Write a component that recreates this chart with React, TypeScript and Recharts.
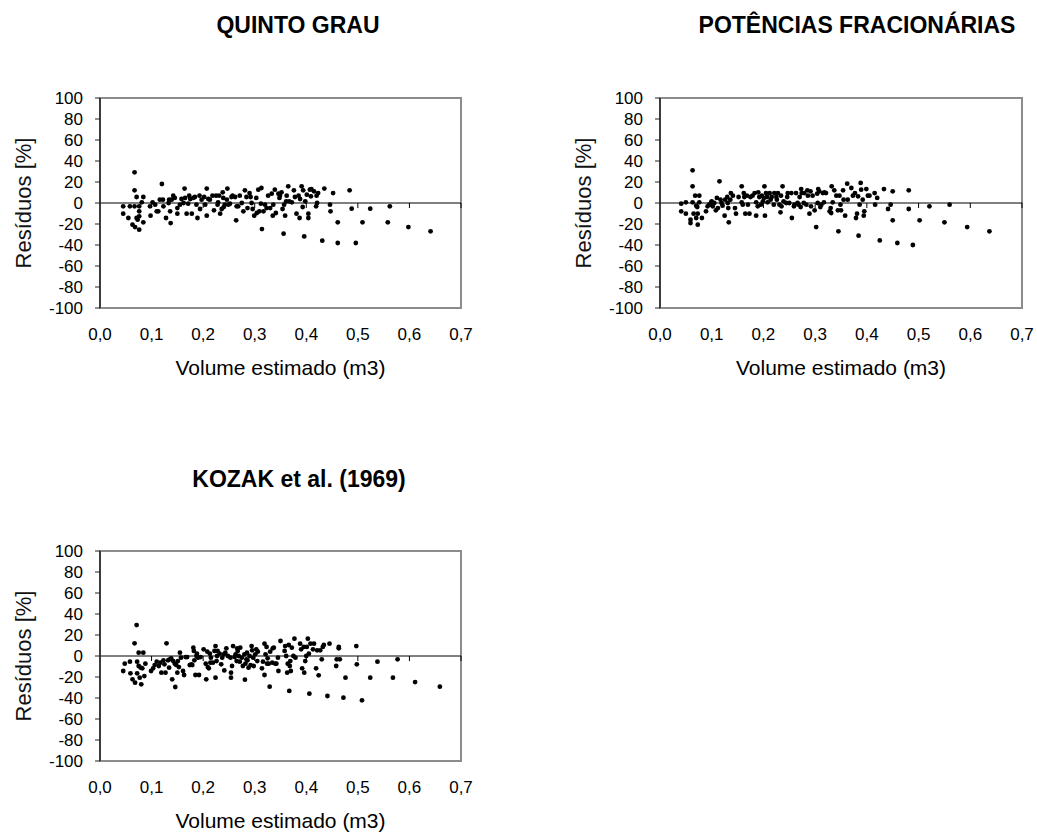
import React from 'react';
import { ScatterChart, Scatter, XAxis, YAxis, ReferenceLine, ReferenceArea } from 'recharts';

const xTicks = [0, 0.1, 0.2, 0.3, 0.4, 0.5, 0.6, 0.7];
const yTicks = [-100, -80, -60, -40, -20, 0, 20, 40, 60, 80, 100];

const titles = ['QUINTO GRAU', 'POTÊNCIAS FRACIONÁRIAS', 'KOZAK et al. (1969)'];
const xLabel = 'Volume estimado (m3)';
const yLabel = 'Resíduos [%]';

const quintoX = [0.045,0.045,0.055,0.058,0.063,0.067,0.067,0.067,0.068,0.071,0.071,0.073,0.076,0.076,0.076,0.076,0.081,0.084,0.084,0.097,0.098,0.102,0.107,0.110,0.113,0.116,0.120,0.122,0.123,0.128,0.133,0.134,0.136,0.137,0.139,0.142,0.145,0.150,0.150,0.155,0.158,0.162,0.164,0.165,0.168,0.171,0.173,0.175,0.178,0.181,0.184,0.187,0.189,0.193,0.194,0.197,0.202,0.204,0.207,0.207,0.210,0.213,0.218,0.221,0.225,0.228,0.229,0.231,0.233,0.236,0.238,0.239,0.240,0.242,0.246,0.247,0.249,0.252,0.255,0.257,0.262,0.264,0.265,0.268,0.271,0.275,0.278,0.281,0.284,0.286,0.290,0.292,0.294,0.296,0.299,0.303,0.304,0.307,0.309,0.312,0.313,0.314,0.317,0.320,0.323,0.326,0.330,0.333,0.335,0.336,0.339,0.341,0.346,0.348,0.349,0.352,0.354,0.356,0.357,0.359,0.361,0.362,0.365,0.367,0.372,0.376,0.378,0.381,0.385,0.387,0.388,0.391,0.393,0.394,0.396,0.398,0.401,0.404,0.404,0.407,0.409,0.410,0.415,0.419,0.420,0.421,0.423,0.431,0.435,0.446,0.447,0.452,0.461,0.461,0.484,0.488,0.496,0.509,0.524,0.558,0.562,0.598,0.641];
const quintoY = [-3.2,-10.2,-14.3,-3.2,-20.6,29.2,12.1,-3.2,-22.9,5.7,-14.3,-15.9,-3.2,-7.9,-12.7,-25.4,0.6,5.7,-18.4,-3.2,-12.1,0.6,-1.6,-7.9,-7.9,3.2,18.1,3.2,-3.2,-14.3,0,3.2,-7.9,-19.1,3.2,7.0,4.8,-4.8,-10.2,-1.6,3.8,0,13.7,4.8,-10.2,-0.6,7.0,3.8,-10.2,4.8,5.7,-1.6,-14.3,7.0,-5.7,3.2,5.7,-1.6,13.7,-12.1,3.8,3.2,7.0,-7.0,7.0,-1.6,0.6,7.0,-10.2,-5.7,10.2,4.8,-3.8,-1.6,3.2,13.7,-1.6,-0.6,5.7,7.0,5.7,-16.5,-3.2,-3.2,7.0,0,-7.9,12.1,5.7,-4.8,9.5,5.7,0,-5.7,-12.1,4.8,-9.5,12.7,-7.9,-0.6,14.3,-24.8,-7.9,-1.6,-4.8,7.0,-4.8,8.9,-12.1,-1.6,12.7,-9.5,8.9,4.8,7.0,10.2,-5.7,-29.2,-1.6,-12.1,1.6,7.0,15.9,1.6,0.6,12.1,5.7,-10.2,7.0,-14.3,3.8,15.9,-3.8,12.1,-31.8,1.6,7.9,-10.2,-14.3,12.7,6.4,13.3,11.1,-3.2,7.0,0,9.5,-35.9,13.7,-1.6,-7.9,9.5,-18.4,-38.1,12.1,-5.4,-38.1,-18.4,-5.4,-18.4,-3.2,-22.9,-27.0];

const potX = [0.041,0.041,0.050,0.050,0.059,0.059,0.063,0.063,0.063,0.065,0.068,0.070,0.070,0.072,0.073,0.073,0.076,0.076,0.081,0.089,0.092,0.095,0.099,0.100,0.102,0.105,0.108,0.110,0.112,0.115,0.117,0.119,0.121,0.125,0.126,0.130,0.131,0.132,0.133,0.136,0.137,0.141,0.145,0.147,0.152,0.158,0.158,0.160,0.162,0.163,0.165,0.168,0.170,0.173,0.175,0.179,0.183,0.186,0.186,0.189,0.190,0.192,0.195,0.197,0.199,0.201,0.202,0.203,0.205,0.207,0.208,0.212,0.214,0.216,0.220,0.221,0.225,0.226,0.228,0.231,0.233,0.234,0.235,0.237,0.239,0.244,0.246,0.247,0.250,0.254,0.255,0.259,0.260,0.263,0.266,0.268,0.270,0.272,0.273,0.274,0.278,0.279,0.283,0.285,0.286,0.289,0.291,0.292,0.295,0.299,0.302,0.304,0.305,0.306,0.308,0.310,0.312,0.315,0.317,0.318,0.321,0.328,0.330,0.331,0.332,0.334,0.337,0.341,0.344,0.345,0.347,0.349,0.350,0.354,0.355,0.358,0.362,0.363,0.370,0.373,0.377,0.379,0.381,0.383,0.384,0.386,0.388,0.389,0.392,0.394,0.395,0.399,0.402,0.405,0.415,0.416,0.420,0.425,0.433,0.441,0.446,0.450,0.450,0.459,0.481,0.481,0.489,0.502,0.521,0.550,0.560,0.594,0.637];
const potY = [-0.6,-7.9,0.6,-10.2,-15.9,-19.1,31.1,15.9,0.6,-10.2,7.0,-2.5,-14.3,-3.8,-10.2,-20.6,7.0,0.6,-14.3,-7.9,-3.2,-1.6,0.6,1.6,-3.2,0,-7.0,4.8,-4.8,20.6,3.2,0,-2.5,-12.1,3.2,5.7,0,-4.8,-18.4,3.2,9.5,7.0,-4.8,-10.2,5.7,15.9,0.6,-1.6,9.5,5.7,-10.2,7.0,-1.6,-10.2,5.7,7.0,9.5,0.6,-12.1,-3.2,10.2,5.7,-1.6,7.0,1.6,4.8,15.9,-12.1,9.5,5.7,0.6,9.5,3.2,5.7,-1.6,9.5,5.7,3.2,9.5,-1.6,-8.9,7.0,-3.2,15.9,1.6,0,5.7,9.5,0,9.5,-14.3,-3.2,-1.6,9.5,0,-1.6,5.7,-3.8,13.3,9.5,0,9.5,-1.6,12.1,7.0,-10.2,11.1,-3.2,7.0,-7.0,-22.9,8.9,0,13.3,11.1,-3.8,-1.6,9.5,0.6,10.2,9.5,-7.9,-4.8,-9.5,15.9,0.6,12.1,7.0,-7.0,-27.0,7.0,-1.6,-7.0,12.1,3.2,-12.1,18.4,3.2,14.3,7.0,9.5,-14.3,-10.2,6.4,-31.1,-1.6,19.1,12.7,3.2,-12.1,-7.9,13.3,7.0,7.0,9.5,-1.6,4.8,-35.6,13.3,-5.7,-1.6,11.1,-16.5,-38.1,12.1,-5.7,-40.0,-16.5,-3.2,-18.4,-1.6,-22.9,-27.0];

const kozakX = [0.045,0.048,0.058,0.059,0.063,0.067,0.068,0.071,0.072,0.072,0.075,0.075,0.077,0.079,0.080,0.082,0.084,0.086,0.088,0.099,0.103,0.106,0.110,0.114,0.117,0.119,0.123,0.125,0.127,0.129,0.132,0.134,0.135,0.138,0.140,0.142,0.145,0.146,0.148,0.150,0.151,0.153,0.155,0.157,0.161,0.163,0.166,0.169,0.174,0.177,0.179,0.181,0.182,0.183,0.185,0.187,0.188,0.190,0.192,0.195,0.201,0.205,0.206,0.208,0.209,0.211,0.213,0.214,0.215,0.219,0.222,0.224,0.224,0.226,0.227,0.228,0.232,0.235,0.237,0.240,0.241,0.243,0.245,0.248,0.253,0.254,0.254,0.256,0.258,0.261,0.263,0.265,0.266,0.267,0.269,0.271,0.272,0.275,0.277,0.280,0.281,0.282,0.284,0.285,0.286,0.288,0.290,0.292,0.294,0.295,0.297,0.298,0.301,0.303,0.305,0.306,0.314,0.316,0.319,0.319,0.321,0.323,0.324,0.325,0.327,0.329,0.330,0.334,0.335,0.337,0.340,0.342,0.345,0.346,0.350,0.358,0.359,0.361,0.363,0.364,0.366,0.367,0.368,0.369,0.370,0.372,0.375,0.377,0.379,0.388,0.390,0.392,0.395,0.396,0.398,0.400,0.401,0.403,0.405,0.406,0.408,0.413,0.415,0.419,0.421,0.424,0.427,0.430,0.432,0.434,0.441,0.445,0.458,0.459,0.463,0.463,0.465,0.472,0.476,0.497,0.498,0.508,0.524,0.538,0.568,0.577,0.611,0.659];
const kozakY = [-14.3,-7.3,-5.4,-16.5,-22.2,12.1,-25.4,29.5,-5.4,-16.5,3.2,-9.5,-20.6,-11.1,-27.0,-11.7,3.2,-19.1,-7.3,-14.3,-11.7,-8.6,-5.4,-9.5,-6.4,-15.9,-4.1,-7.9,-15.9,12.1,-4.1,-11.1,-3.2,-2.2,-22.2,-4.8,-7.3,-29.5,-8.6,-15.9,-4.8,-10.5,3.2,-1.6,-14.3,-18.1,-1.0,-1.0,-8.6,-7.9,-8.6,7.9,4.8,-4.1,-18.1,0,2.2,-1.6,-18.1,-1.0,6.4,-7.3,-22.2,4.1,-10.5,-11.7,2.2,-6.4,-1.6,-6.4,4.8,9.5,-20.6,-4.8,0,4.8,2.2,-7.9,-1.6,1.6,-13.7,3.2,7.3,0,-1.6,-20.6,-15.9,-9.5,9.5,-1.0,1.6,-4.8,7.3,4.8,0,-5.4,7.9,-1.6,-9.5,1.6,-22.5,-7.3,-3.2,3.2,-4.1,-11.1,0,-8.6,9.5,5.4,-1.6,-9.5,1.6,6.4,-4.8,4.1,-11.7,-5.4,11.7,-18.1,1.6,8.6,-7.3,-2.2,-7.3,-29.2,4.1,-6.4,7.3,7.9,-7.3,-7.3,-1.6,-14.3,14.3,4.8,9.5,0,-15.9,-7.3,10.5,-33.3,-9.5,-4.8,-14.3,7.9,0,16.5,-1.6,11.7,6.4,-11.7,8.6,-15.9,-4.8,0,8.6,16.5,2.2,-35.9,11.7,6.4,11.7,-11.7,5.4,-18.4,5.4,-3.2,8.6,10.5,-38.1,11.7,-9.5,-3.2,8.6,7.3,-3.2,-39.7,-20.6,9.5,-7.9,-42.2,-20.6,-5.4,-20.6,-3.2,-24.8,-29.2];

const FONT = '"Liberation Sans", Arial, Helvetica, sans-serif';

const Dot = (props: any) => {
  const { cx, cy } = props;
  if (cx == null || cy == null) return null;
  return <circle cx={cx} cy={cy} r={2.4} fill="#000" />;
};

const fmtX = (v: number) => v.toFixed(1).replace('.', ',');

interface PanelProps {
  xs: number[];
  ys: number[];
  left: number;
  top: number;
  width: number;
  right: number;
}

const Panel = ({ xs, ys, left, top, width, right }: PanelProps) => {
  const data = xs.map((x, i) => ({ x, y: ys[i] }));
  return (
    <div style={{ position: 'absolute', left, top, width, height: 381 }}>
      <ScatterChart
        width={width}
        height={381}
        margin={{ top: 98, right, bottom: 3, left: 0 }}
      >
        <ReferenceArea
          x1={0}
          x2={0.7}
          y1={-100}
          y2={100}
          fill="none"
          stroke="#8c8c8c"
          strokeWidth={2}
          ifOverflow="visible"
        />
        <XAxis
          type="number"
          dataKey="x"
          domain={[0, 0.7]}
          ticks={xTicks}
          interval={0}
          tickFormatter={fmtX}
          axisLine={false}
          tickLine={false}
          tickSize={5}
          tickMargin={15}
          height={70}
          tick={{ fill: '#000', fontSize: 17, fontFamily: FONT }}
          allowDataOverflow
          label={{
            value: xLabel,
            position: 'insideBottom',
            offset: 3,
            fill: '#000',
            fontSize: 21,
            fontFamily: FONT,
          }}
        />
        <YAxis
          type="number"
          dataKey="y"
          domain={[-100, 100]}
          ticks={yTicks}
          interval={0}
          width={100}
          axisLine={{ stroke: '#222', strokeWidth: 1.5 }}
          tickLine={{ stroke: '#222' }}
          tickSize={5}
          tickMargin={12}
          tick={{ fill: '#000', fontSize: 17, fontFamily: FONT }}
          allowDataOverflow
          label={{
            value: yLabel,
            angle: -90,
            position: 'insideLeft',
            offset: 23,
            fill: '#111',
            fontSize: 22,
            fontFamily: FONT,
            style: { textAnchor: 'middle' },
          }}
        />
        <ReferenceLine y={0} stroke="#000" strokeWidth={1} />
        {xTicks.slice(1).map((t) => (
          <ReferenceLine
            key={t}
            segment={[
              { x: t, y: 0 },
              { x: t, y: -4.8 },
            ]}
            stroke="#000"
            strokeWidth={1}
          />
        ))}
        <Scatter data={data} shape={Dot} isAnimationActive={false} />
      </ScatterChart>
    </div>
  );
};

const Title = ({ text, center, top }: { text: string; center: number; top: number }) => (
  <div
    style={{
      position: 'absolute',
      left: center - 250,
      width: 500,
      top,
      textAlign: 'center',
      fontFamily: FONT,
      fontWeight: 'bold',
      fontSize: 23,
      lineHeight: '23px',
      color: '#000',
      whiteSpace: 'nowrap',
    }}
  >
    {text}
  </div>
);

export default function App() {
  return (
    <div
      style={{
        position: 'absolute',
        left: 0,
        top: 0,
        width: 1037,
        height: 834,
        overflow: 'hidden',
        background: '#fff',
        fontFamily: FONT,
      }}
    >
      <Title text={titles[0]} center={298} top={13.5} />
      <Title text={titles[1]} center={857} top={13.5} />
      <Title text={titles[2]} center={299} top={467.5} />
      <Panel xs={quintoX} ys={quintoY} left={0} top={0} width={500} right={39} />
      <Panel xs={potX} ys={potY} left={560} top={0} width={477} right={15} />
      <Panel xs={kozakX} ys={kozakY} left={0} top={453} width={500} right={39} />
    </div>
  );
}
